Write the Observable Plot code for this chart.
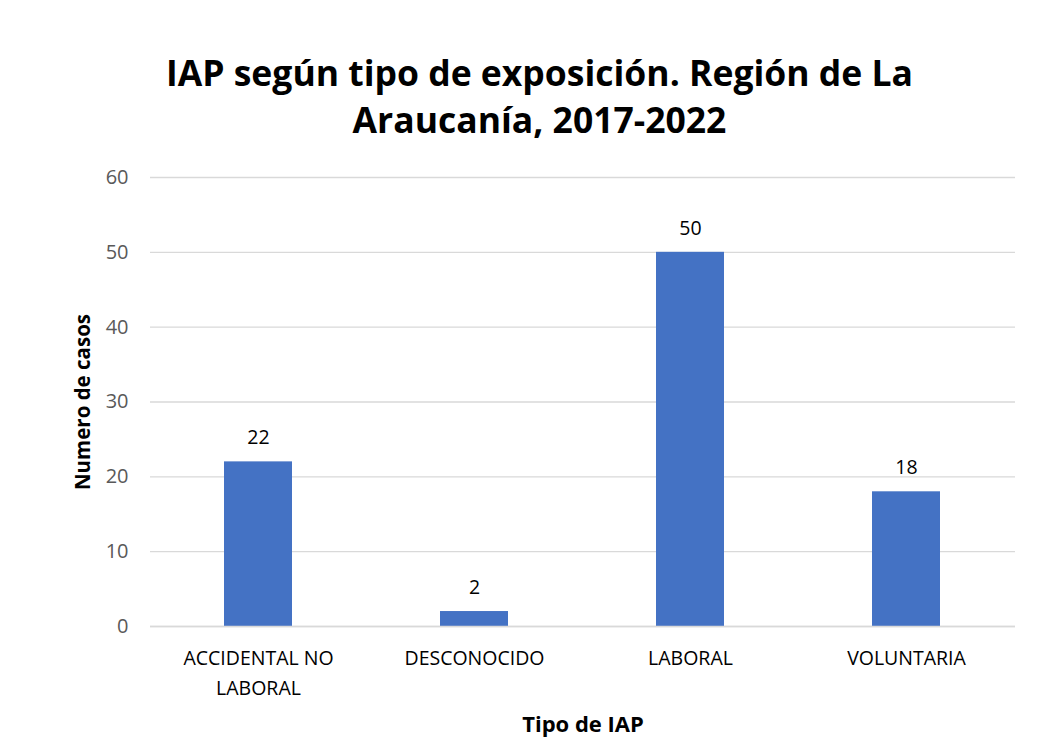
<!DOCTYPE html>
<html>
<head>
<meta charset="utf-8">
<script src="https://cdn.jsdelivr.net/npm/d3@7"></script>
<script src="https://cdn.jsdelivr.net/npm/@observablehq/plot@0.6"></script>
<style>
  html, body { margin: 0; padding: 0; background: #fff; }
  #wrap { width: 1049px; height: 747px; position: relative; overflow: hidden; }
  #title { position: absolute; left: 0; top: 0; width: 1049px; height: 160px; box-sizing: border-box; padding-top: 49px; padding-left: 30px;
    text-align: center; font-family: "Open Sans", sans-serif; font-weight: 700; font-size: 35.5px; line-height: 47px; color: #000; }
  #chart { position: absolute; left: 0; top: 160px; }
</style>
</head>
<body>
<div id="wrap">
  <div id="title">IAP según tipo de exposición. Región de La<br>Araucanía, 2017-2022</div>
  <div id="chart"></div>
</div>
<script>
const categories = ["ACCIDENTAL NO LABORAL", "DESCONOCIDO", "LABORAL", "VOLUNTARIA"];
const tickLabels = ["ACCIDENTAL NO\nLABORAL", "DESCONOCIDO", "LABORAL", "VOLUNTARIA"];
const values = [22, 2, 50, 18];
const yTicks = [0, 10, 20, 30, 40, 50, 60];

const data = categories.map((c, i) => ({cat: c, value: values[i], label: tickLabels[i]}));
const font = "'Open Sans', sans-serif";

const plot = Plot.plot({
  width: 1049,
  height: 587,
  marginTop: 17,
  marginBottom: 121,
  marginLeft: 150,
  marginRight: 34,
  style: {fontFamily: font, background: "#fff"},
  x: {domain: categories, paddingInner: 0.685, paddingOuter: 0.3425, label: null},
  y: {domain: [0, 60], label: null},
  marks: [
    Plot.gridY(yTicks, {stroke: "#d9d9d9", strokeOpacity: 1, strokeWidth: 1.3}),
    Plot.barY(data, {x: "cat", y: "value", fill: "#4472c4"}),
    Plot.ruleY([0], {stroke: "#d9d9d9", strokeWidth: 1.3}),
    Plot.axisY(yTicks, {tickSize: 0, tickPadding: 22, fontSize: 20, fill: "#595959", label: null}),
    Plot.axisX(categories, {tickSize: 0, tickPadding: 18, fontSize: 19.5, fill: "#000", lineHeight: 1.5,
      tickFormat: (d) => tickLabels[categories.indexOf(d)], label: null}),
    Plot.text(data, {x: "cat", y: "value", text: (d) => String(d.value), dy: -24, fontSize: 19.5, fill: "#000"}),
    Plot.text(["Tipo de IAP"], {frameAnchor: "bottom", dy: 105, fontSize: 22, fontWeight: "bold", fill: "#000", text: (d) => d}),
    Plot.text(["Numero de casos"], {frameAnchor: "left", textAnchor: "middle", dx: -67, rotate: -90, fontSize: 20.5, fontWeight: "bold", fill: "#000", text: (d) => d})
  ]
});
document.getElementById("chart").appendChild(plot);
</script>
</body>
</html>
